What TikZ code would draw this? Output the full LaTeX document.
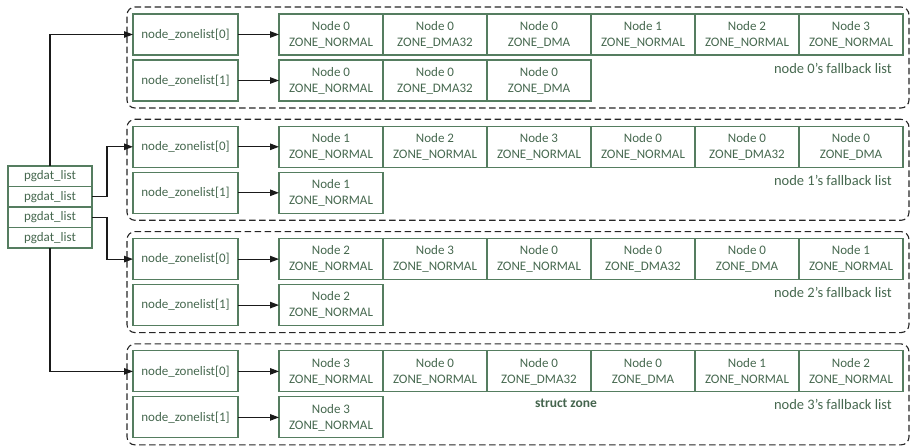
\documentclass[tikz,border=0pt]{standalone}
\usepackage{fontspec}
\setmainfont{Carlito}
\usepackage{tikz}
\usetikzlibrary{arrows.meta,positioning,calc,fit}
\definecolor{clBox}{HTML}{557D60}
\definecolor{clText}{HTML}{46684F}
\definecolor{clLine}{HTML}{1A1A1A}
\tikzset{
  box/.style={rectangle, draw=clBox, line width=1.1pt, align=center, outer sep=0pt,
              inner sep=2pt, text=clText, font=\fontsize{13}{16}\selectfont},
  zone/.style={box, minimum width=104pt, minimum height=41pt},
  zlist/.style={box, minimum width=105pt, minimum height=41pt},
  pglist/.style={box, minimum width=84pt, minimum height=20.5pt},
  group/.style={draw=black!85, line width=1.1pt, dash pattern=on 6.5pt off 3.5pt,
                rounded corners=8pt, inner xsep=6pt, inner ysep=7pt},
  flow/.style={-{Triangle[length=9pt,width=6.5pt]}, line width=1.1pt, draw=clLine},
  listlabel/.style={font=\fontsize{14.5}{17}\selectfont, text=clText, inner sep=0pt},
}

\begin{document}
\begin{tikzpicture}[x=1pt, y=1pt, node distance=0pt]
  \useasboundingbox (0,0) rectangle (910,-446);

  % pgdat_list stack
  \node[pglist, anchor=north west] (p0) at (8,-166) {pgdat\_list};
  \node[pglist, below=of p0] (p1) {pgdat\_list};
  \node[pglist, below=of p1] (p2) {pgdat\_list};
  \node[pglist, below=of p2] (p3) {pgdat\_list};

  % node 0
  \node[zlist, anchor=north west] (a0) at (133,-14) {node\_zonelist[0]};
  \node[zlist, below=5pt of a0] (a1) {node\_zonelist[1]};
  \node[zone, right=41pt of a0] (a0z1) {Node 0\\ZONE\_NORMAL};
  \node[zone, right=of a0z1] (a0z2) {Node 0\\ZONE\_DMA32};
  \node[zone, right=of a0z2] (a0z3) {Node 0\\ZONE\_DMA};
  \node[zone, right=of a0z3] (a0z4) {Node 1\\ZONE\_NORMAL};
  \node[zone, right=of a0z4] (a0z5) {Node 2\\ZONE\_NORMAL};
  \node[zone, right=of a0z5] (a0z6) {Node 3\\ZONE\_NORMAL};
  \node[zone, right=41pt of a1] (a1z1) {Node 0\\ZONE\_NORMAL};
  \node[zone, right=of a1z1] (a1z2) {Node 0\\ZONE\_DMA32};
  \node[zone, right=of a1z2] (a1z3) {Node 0\\ZONE\_DMA};
  \node[listlabel, anchor=east] (fa) at ($(a0z6.south east)+(-11,-13)$) {node 0's fallback list};
  \node[group, fit=(a0)(a1)(a0z6)] (ga) {};

  % node 1
  \node[zlist, below=25.3pt of a1] (b0) {node\_zonelist[0]};
  \node[zlist, below=5pt of b0] (b1) {node\_zonelist[1]};
  \node[zone, right=41pt of b0] (b0z1) {Node 1\\ZONE\_NORMAL};
  \node[zone, right=of b0z1] (b0z2) {Node 2\\ZONE\_NORMAL};
  \node[zone, right=of b0z2] (b0z3) {Node 3\\ZONE\_NORMAL};
  \node[zone, right=of b0z3] (b0z4) {Node 0\\ZONE\_NORMAL};
  \node[zone, right=of b0z4] (b0z5) {Node 0\\ZONE\_DMA32};
  \node[zone, right=of b0z5] (b0z6) {Node 0\\ZONE\_DMA};
  \node[zone, right=41pt of b1] (b1z1) {Node 1\\ZONE\_NORMAL};
  \node[listlabel, anchor=east] (fb) at ($(b0z6.south east)+(-11,-13)$) {node 1's fallback list};
  \node[group, fit=(b0)(b1)(b0z6)] (gb) {};

  % node 2
  \node[zlist, below=25.3pt of b1] (c0) {node\_zonelist[0]};
  \node[zlist, below=5pt of c0] (c1) {node\_zonelist[1]};
  \node[zone, right=41pt of c0] (c0z1) {Node 2\\ZONE\_NORMAL};
  \node[zone, right=of c0z1] (c0z2) {Node 3\\ZONE\_NORMAL};
  \node[zone, right=of c0z2] (c0z3) {Node 0\\ZONE\_NORMAL};
  \node[zone, right=of c0z3] (c0z4) {Node 0\\ZONE\_DMA32};
  \node[zone, right=of c0z4] (c0z5) {Node 0\\ZONE\_DMA};
  \node[zone, right=of c0z5] (c0z6) {Node 1\\ZONE\_NORMAL};
  \node[zone, right=41pt of c1] (c1z1) {Node 2\\ZONE\_NORMAL};
  \node[listlabel, anchor=east] (fc) at ($(c0z6.south east)+(-11,-13)$) {node 2's fallback list};
  \node[group, fit=(c0)(c1)(c0z6)] (gc) {};

  % node 3
  \node[zlist, below=25.3pt of c1] (d0) {node\_zonelist[0]};
  \node[zlist, below=5pt of d0] (d1) {node\_zonelist[1]};
  \node[zone, right=41pt of d0] (d0z1) {Node 3\\ZONE\_NORMAL};
  \node[zone, right=of d0z1] (d0z2) {Node 0\\ZONE\_NORMAL};
  \node[zone, right=of d0z2] (d0z3) {Node 0\\ZONE\_DMA32};
  \node[zone, right=of d0z3] (d0z4) {Node 0\\ZONE\_DMA};
  \node[zone, right=of d0z4] (d0z5) {Node 1\\ZONE\_NORMAL};
  \node[zone, right=of d0z5] (d0z6) {Node 2\\ZONE\_NORMAL};
  \node[zone, right=41pt of d1] (d1z1) {Node 3\\ZONE\_NORMAL};
  \node[listlabel, anchor=east] (fd) at ($(d0z6.south east)+(-11,-13)$) {node 3's fallback list};
  \node[listlabel, font=\fontsize{13.5}{16}\bfseries, text=clBox!80!black] (sz)
    at ($(d0z3.south east)+(-25,-11)$) {struct zone};
  \node[group, fit=(d0)(d1)(d0z6)] (gd) {};

  % links
  \draw[flow] (p0.north) |- (a0.west);
  \draw[flow] (p1.east) -- ++(15,0) |- (b0.west);
  \draw[flow] (p2.east) -- ++(15,0) |- (c0.west);
  \draw[flow] (p3.south) |- (d0.west);
  \draw[flow] (a0) -- (a0z1);
  \draw[flow] (a1) -- (a1z1);
  \draw[flow] (b0) -- (b0z1);
  \draw[flow] (b1) -- (b1z1);
  \draw[flow] (c0) -- (c0z1);
  \draw[flow] (c1) -- (c1z1);
  \draw[flow] (d0) -- (d0z1);
  \draw[flow] (d1) -- (d1z1);
\end{tikzpicture}
\end{document}
